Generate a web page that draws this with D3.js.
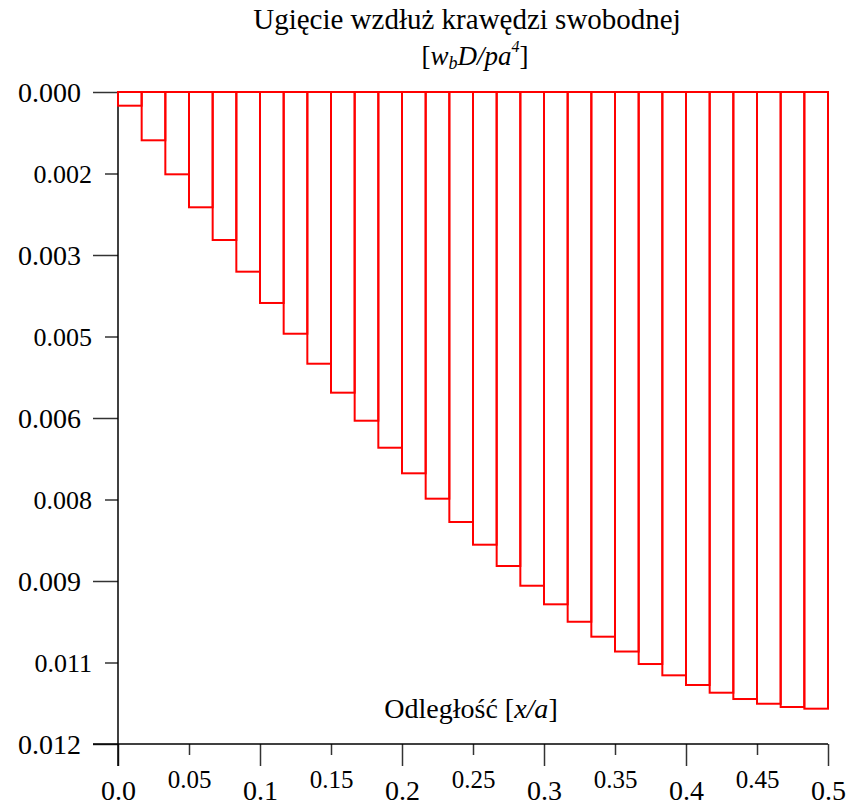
<!DOCTYPE html>
<html>
<head>
<meta charset="utf-8">
<script src="https://cdn.jsdelivr.net/npm/d3@7"></script>
<style>
  body { margin: 0; background: #fff; }
  svg text { font-family: "Liberation Serif", Tinos, "Times New Roman", serif; fill: #000; }
</style>
</head>
<body>
<script>
// segments along the free edge (x/a from 0 to 0.5)
const segments = [1, 2, 3, 4, 5, 6, 7, 8, 9, 10, 11, 12, 13, 14, 15,
                  16, 17, 18, 19, 20, 21, 22, 23, 24, 25, 26, 27, 28, 29, 30];
// deflection w_b D / p a^4 for each segment
const deflection = [0.000252, 0.000889, 0.001515, 0.002122, 0.002724, 0.003307,
                    0.003883, 0.004449, 0.005001, 0.005534, 0.006050, 0.006547,
                    0.007018, 0.007485, 0.007914, 0.008332, 0.008724, 0.009087,
                    0.009429, 0.009750, 0.010025, 0.010298, 0.010528, 0.010736,
                    0.010914, 0.011056, 0.011172, 0.011259, 0.011319, 0.011350];

const yMajorTicks = [0, 0.003, 0.006, 0.009, 0.012];
const yMajorLabels = ['0.000', '0.003', '0.006', '0.009', '0.012'];
const yMinorTicks = [0.0015, 0.0045, 0.0075, 0.0105];
const yMinorLabels = ['0.002', '0.005', '0.008', '0.011'];
const xMajorTicks = [0, 0.1, 0.2, 0.3, 0.4, 0.5];
const xMajorLabels = ['0.0', '0.1', '0.2', '0.3', '0.4', '0.5'];
const xMinorTicks = [0.05, 0.15, 0.25, 0.35, 0.45];
const xMinorLabels = ['0.05', '0.15', '0.25', '0.35', '0.45'];

const width = 849, height = 805;
const margin = {top: 92, right: 21, bottom: 61, left: 118};
const serif = '"Liberation Serif", Tinos, "Times New Roman", serif';

const svg = d3.select('body').append('svg')
  .attr('width', width)
  .attr('height', height)
  .attr('font-family', serif);

const x = d3.scaleLinear().domain([0, 0.5]).range([margin.left, width - margin.right]);
const y = d3.scaleLinear().domain([0, 0.012]).range([margin.top, height - margin.bottom]);
const band = d3.scaleBand().domain(segments).range(x.range()).padding(0);

// axes
function styleAxis(g) {
  g.attr('font-family', serif);
  g.select('.domain').remove();
  g.selectAll('.tick line').attr('stroke', '#333').attr('stroke-width', 1.5);
}

svg.append('g')
  .attr('transform', `translate(${margin.left},0)`)
  .call(d3.axisLeft(y).tickValues(yMajorTicks).tickSize(25).tickPadding(12)
    .tickFormat((d, i) => yMajorLabels[i]))
  .call(styleAxis)
  .call(g => g.selectAll('text').style('font-size', '28px').attr('dy', '0.34em'));

svg.append('g')
  .attr('transform', `translate(${margin.left},0)`)
  .call(d3.axisLeft(y).tickValues(yMinorTicks).tickSize(13).tickPadding(13)
    .tickFormat((d, i) => yMinorLabels[i]))
  .call(styleAxis)
  .call(g => g.selectAll('text').style('font-size', '26px').attr('dy', '0.34em'));

svg.append('g')
  .attr('transform', `translate(0,${height - margin.bottom})`)
  .call(d3.axisBottom(x).tickValues(xMajorTicks).tickSize(22).tickPadding(0)
    .tickFormat((d, i) => xMajorLabels[i]))
  .call(styleAxis)
  .call(g => g.selectAll('text').style('font-size', '28px').attr('y', 56).attr('dy', 0));

svg.append('g')
  .attr('transform', `translate(0,${height - margin.bottom})`)
  .call(d3.axisBottom(x).tickValues(xMinorTicks).tickSize(11).tickPadding(0)
    .tickFormat((d, i) => xMinorLabels[i]))
  .call(styleAxis)
  .call(g => g.selectAll('text').style('font-size', '25px').attr('y', 44).attr('dy', 0));

// axis lines
svg.append('line')
  .attr('x1', 93).attr('x2', x(0.5))
  .attr('y1', y(0.012)).attr('y2', y(0.012))
  .attr('stroke', '#000').attr('stroke-width', 1.5);
svg.append('line')
  .attr('x1', x(0)).attr('x2', x(0))
  .attr('y1', y(0)).attr('y2', y(0.012) + 22)
  .attr('stroke', '#000').attr('stroke-width', 1.5);

// bars
svg.append('g')
  .selectAll('rect')
  .data(segments)
  .enter()
  .append('rect')
  .attr('x', d => band(d))
  .attr('y', y(0))
  .attr('width', band.bandwidth())
  .attr('height', (d, i) => y(deflection[i]) - y(0))
  .attr('fill', 'none')
  .attr('stroke', '#ff0000')
  .attr('stroke-width', 2);

// titles
svg.append('text')
  .attr('x', 467).attr('y', 29)
  .attr('text-anchor', 'middle')
  .style('font-size', '29px')
  .text('Ugięcie wzdłuż krawędzi swobodnej');

const sub = svg.append('text')
  .attr('x', 475).attr('y', 65)
  .attr('text-anchor', 'middle')
  .style('font-size', '27px');
sub.append('tspan').text('[');
sub.append('tspan').style('font-style', 'italic').text('w');
sub.append('tspan').style('font-style', 'italic').style('font-size', '18px').attr('dy', 4).text('b');
sub.append('tspan').style('font-style', 'italic').attr('dy', -4).text('D/pa');
sub.append('tspan').style('font-style', 'italic').style('font-size', '16px').attr('dy', -13).text('4');
sub.append('tspan').attr('dy', 13).text(']');

const xl = svg.append('text')
  .attr('x', 471).attr('y', 718)
  .attr('text-anchor', 'middle')
  .style('font-size', '28px');
xl.append('tspan').text('Odległość [');
xl.append('tspan').style('font-style', 'italic').text('x/a');
xl.append('tspan').text(']');
</script>
</body>
</html>
